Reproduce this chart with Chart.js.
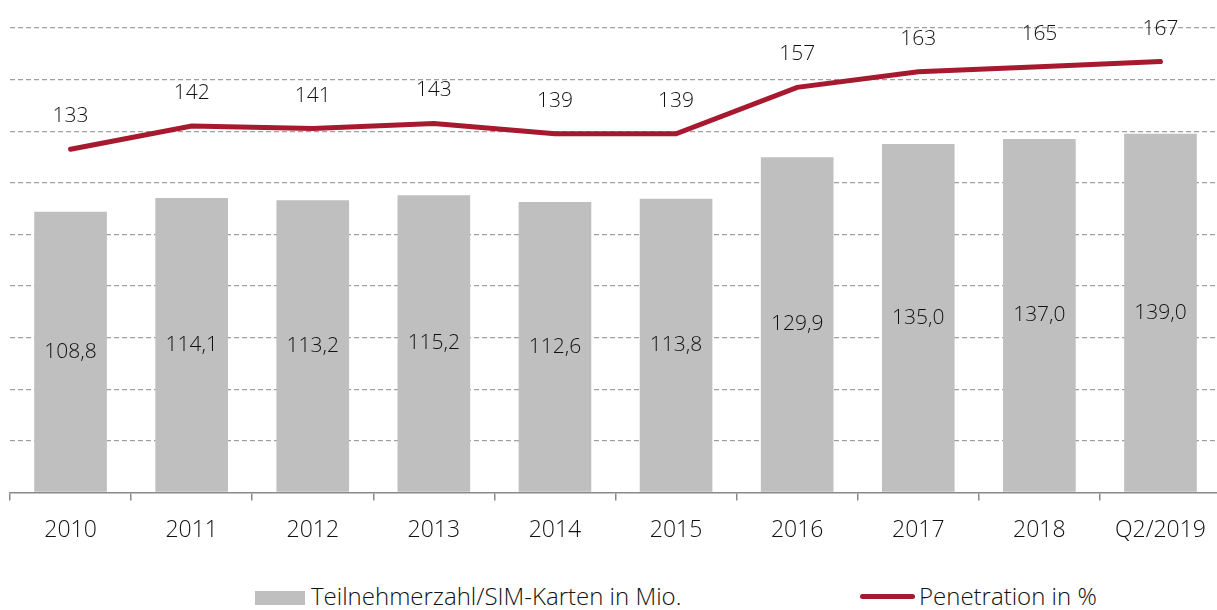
<!DOCTYPE html>
<html lang="de">
<head>
    <meta charset="UTF-8">
    <title>Teilnehmerzahl und Penetration</title>
    <style>
        html, body { margin: 0; padding: 0; background: #fff; overflow: hidden; }
        body { width: 1217px; height: 610px; position: relative; font-family: "Open Sans", sans-serif; }
        .chart-box { position: absolute; left: 0; top: 0; width: 1222px; height: 560px; }
        .legend { position: absolute; top: 581px; left: 0; width: 1217px; height: 30px;
                  font-size: 24px; font-weight: 300; color: #111; }
        .legend span { position: absolute; top: 0; line-height: 30px; white-space: nowrap; }
        .swatch-bar { display: inline-block; width: 50px; height: 14px; background: #bfbfbf;
                      vertical-align: 0px; margin-right: 6px; }
        .swatch-line { display: inline-block; width: 55px; height: 5px; background: #a6192e;
                       border-radius: 3px; vertical-align: 6px; margin-right: 4px; }
    </style>
</head>
<body>
    <div class="chart-box"><canvas id="chart"></canvas></div>
    <div class="legend">
        <span style="left:255px"><i class="swatch-bar"></i>Teilnehmerzahl/SIM-Karten in Mio.</span>
        <span style="left:860px"><i class="swatch-line"></i>Penetration in %</span>
    </div>

    <script src="https://cdn.jsdelivr.net/npm/chart.js"></script>
    <script>
        // data
        const categories = ['2010', '2011', '2012', '2013', '2014', '2015', '2016', '2017', '2018', 'Q2/2019'];
        const subscribers = [108.8, 114.1, 113.2, 115.2, 112.6, 113.8, 129.9, 135.0, 137.0, 139.0];
        const penetration = [133, 142, 141, 143, 139, 139, 157, 163, 165, 167];
        const yTicks = [0, 20, 40, 60, 80, 100, 120, 140, 160, 180];

        const labelFont = '300 21px "Open Sans", sans-serif';

        // value labels: bars in the middle, line above the points
        const valueLabels = {
            id: 'valueLabels',
            afterDatasetsDraw(chart) {
                const ctx = chart.ctx;
                ctx.save();
                ctx.font = labelFont;
                ctx.fillStyle = '#111';
                ctx.textAlign = 'center';
                ctx.textBaseline = 'middle';
                chart.getDatasetMeta(0).data.forEach((bar, i) => {
                    const txt = subscribers[i].toFixed(1).replace('.', ',');
                    ctx.fillText(txt, bar.x, (bar.y + bar.base) / 2);
                });
                chart.getDatasetMeta(1).data.forEach((pt, i) => {
                    ctx.fillText(String(penetration[i]), pt.x, Math.max(pt.y - 33, 20));
                });
                ctx.restore();
            }
        };

        new Chart(document.getElementById('chart'), {
            type: 'bar',
            data: {
                labels: categories,
                datasets: [{
                    label: 'Teilnehmerzahl/SIM-Karten in Mio.',
                    data: subscribers,
                    backgroundColor: '#bfbfbf',
                    barPercentage: 0.6,
                    categoryPercentage: 1.0,
                    order: 2
                }, {
                    type: 'line',
                    label: 'Penetration in %',
                    data: penetration,
                    borderColor: '#a6192e',
                    backgroundColor: '#a6192e',
                    borderWidth: 5,
                    borderCapStyle: 'round',
                    pointRadius: 0,
                    tension: 0,
                    order: 1
                }]
            },
            options: {
                responsive: true,
                maintainAspectRatio: false,
                animation: false,
                layout: { padding: { top: 28, left: 10, right: 0, bottom: 0 } },
                plugins: {
                    legend: { display: false },
                    tooltip: { enabled: false }
                },
                scales: {
                    x: {
                        offset: true,
                        grid: {
                            offset: true,
                            drawOnChartArea: false,
                            drawTicks: true,
                            tickLength: 8,
                            color: '#898989',
                            lineWidth: 1.5
                        },
                        border: { display: true, color: '#898989', width: 1.5 },
                        ticks: {
                            color: '#111',
                            padding: 16,
                            font: { family: '"Open Sans", sans-serif', size: 23, weight: 300 },
                            maxRotation: 0,
                            autoSkip: false
                        }
                    },
                    y: {
                        min: yTicks[0],
                        max: yTicks[yTicks.length - 1],
                        afterBuildTicks(axis) {
                            axis.ticks = yTicks.map(v => ({ value: v }));
                        },
                        ticks: { display: false },
                        border: { display: false, dash: [5, 3] },
                        grid: {
                            drawTicks: false,
                            color: ctx => ctx.tick && ctx.tick.value === 0 ? 'rgba(0,0,0,0)' : '#a0a0a0',
                            lineWidth: 1.3
                        }
                    }
                }
            },
            plugins: [valueLabels]
        });
    </script>
</body>
</html>
